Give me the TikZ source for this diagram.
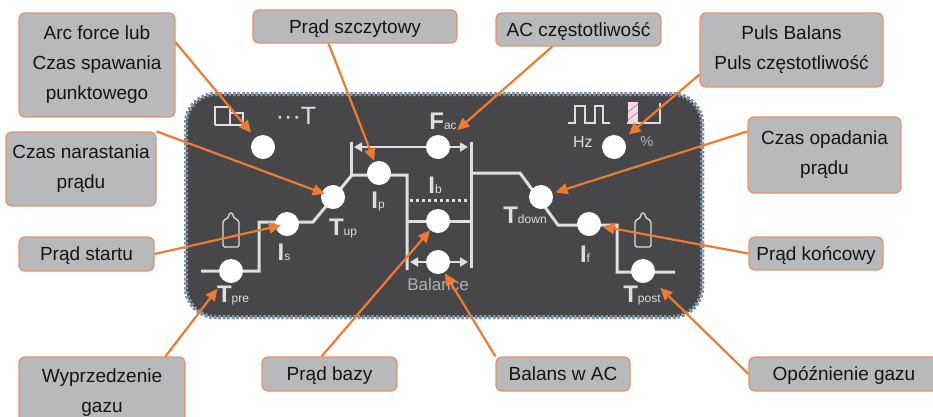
\documentclass[tikz,border=0pt]{standalone}
\usepackage{fontspec}
\setsansfont{Liberation Sans}
\usepackage{xcolor}
\usetikzlibrary{arrows.meta, positioning}

\definecolor{paneldark}{HTML}{474649}
\definecolor{paneledge}{HTML}{7F97AE}
\definecolor{panelrim}{HTML}{3C4650}
\definecolor{boxgray}{HTML}{B9B9BB}
\definecolor{boxedge}{HTML}{E2946F}
\definecolor{pointerorange}{HTML}{EE7B33}
\definecolor{wiregray}{HTML}{DEDEDE}

% big letter with its small index
\newcommand{\paneltag}[2]{{\fontsize{24}{24}\bfseries\selectfont #1}{\fontsize{12}{12}\selectfont #2}}

\begin{document}
\begin{tikzpicture}[
    x=1pt, y=-1pt,
    font=\sffamily,
    % Styles
    panel/.style={rectangle, fill=paneldark, preaction={draw=panelrim, line width=4pt}, draw=paneledge, line width=4pt, dash pattern=on 2.5pt off 2pt, rounded corners=30pt, minimum width=516pt, minimum height=223pt, inner sep=0pt},
    callout/.style={rectangle, draw=boxedge, fill=boxgray, line width=1.3pt, rounded corners=6pt, align=center, inner sep=0pt, text=black!92, font=\sffamily\fontsize{19}{30}\selectfont},
    oneline/.style={text height=17.5pt, text depth=4pt},
    knob/.style={circle, fill=white, minimum size=24pt, inner sep=0pt},
    pointer/.style={-{Triangle[length=12pt, width=11pt]}, line width=2.2pt, draw=pointerorange},
    wire/.style={line width=3pt, draw=wiregray},
    thinwire/.style={line width=1.3pt, draw=wiregray},
    dimarr/.style={{Triangle[length=8pt, width=9pt]}-{Triangle[length=8pt, width=9pt]}, line width=2.4pt, draw=wiregray},
    symbol/.style={inner sep=0pt, text=wiregray}
]

\useasboundingbox (0,0) rectangle (933,416);
\clip (0,0) rectangle (933,416);

% ========================================================
% PART 1: PANEL AND WELDING CURVE
% ========================================================

\node[panel] (panel) at (444,205.5) {};

% Current curve, left half
\draw[wire] (201,271) -- (259,271) -- (259,222) -- (313,222) -- (352,175) -- (407,175) -- (407,270);
\draw[wire] (351,142) -- (351,175);
\draw[wire] (407,221) -- (471,221);
\draw[wire, dash pattern=on 3pt off 3pt] (410,200) -- (468,200);

% Current curve, right half
\draw[wire] (471,142) -- (471,268);
\draw[wire] (471,173) -- (520,173) -- (558,225) -- (617,225) -- (617,272) -- (675,272);

% Dimension arrows
\draw[dimarr] (354,147) -- (468,147);
\draw[dimarr] (410,262) -- (468,262);

% Knobs
\node[knob] (knobarc) at (263,147) {};
\node[knob] (knobstart) at (287,224) {};
\node[knob] (knobup) at (333,197) {};
\node[knob] (knobpeak) at (379,173) {};
\node[knob] (knobfreq) at (438,147) {};
\node[knob] (knobbase) at (438,221) {};
\node[knob] (knobbal) at (438,262) {};
\node[knob] (knobpre) at (231,271) {};
\node[knob] (knobpuls) at (614,147) {};
\node[knob] (knobdown) at (541,197) {};
\node[knob] (knobend) at (589,224) {};
\node[knob] (knobpost) at (643,271) {};

% Tags next to the knobs
\node[symbol, below=8pt of knobstart, xshift=-3pt] (tagstart) {\paneltag{I}{s}};
\node[symbol, below=10pt of knobup, xshift=10pt] (tagup) {\paneltag{T}{up}};
\node[symbol, below=7pt of knobpeak, xshift=-1pt] (tagpeak) {\paneltag{I}{p}};
\node[symbol, above=5pt of knobfreq, xshift=5pt] (tagfreq) {\paneltag{F}{ac}};
\node[symbol, above=15pt of knobbase, xshift=-3pt] (tagbase) {\paneltag{I}{b}};
\node[symbol, below=3pt of knobpre, xshift=2pt] (tagpre) {\paneltag{T}{pre}};
\node[symbol, below=-2pt of knobdown, xshift=-16pt] (tagdown) {\paneltag{T}{down}};
\node[symbol, below=10pt of knobend, xshift=-4pt] (tagend) {\paneltag{I}{f}};
\node[symbol, below=3pt of knobpost, xshift=-1pt] (tagpost) {\paneltag{T}{post}};
\node[symbol, below=4pt of knobbal, font=\sffamily\fontsize{17}{17}\selectfont, text=black!30] (tagbal) {Balance};
\node[symbol, left=9pt of knobpuls, yshift=5pt, font=\sffamily\fontsize{16}{16}\selectfont] (taghz) {Hz};
\node[symbol, right=14pt of knobpuls, yshift=5pt, font=\sffamily\fontsize{14.5}{14.5}\selectfont, text=blue!30!black!30] (tagpct) {\%};
\node[symbol, font=\sffamily\fontsize{25}{25}\selectfont] (tagdots) at (296,116) {···T};

% Gas cylinders
\draw[thinwire, rounded corners=1.5pt] (223,247) -- (223,221) -- (229,217) -- (229,213) -- (233,213) -- (233,217) -- (239,221) -- (239,247) -- cycle;
\draw[thinwire, rounded corners=1.5pt] (635,247) -- (635,221) -- (641,217) -- (641,213) -- (645,213) -- (645,217) -- (651,221) -- (651,247) -- cycle;

% Small icons
\draw[thinwire] (215,125) -- (215,107) -- (230,107) -- (230,125);
\draw[thinwire] (215,125) -- (243,125) -- (243,113) -- (230,113);
\draw[thinwire] (568,123) -- (575,123) -- (575,106) -- (585,106) -- (585,123) -- (595,123) -- (595,106) -- (603,106) -- (603,123) -- (610,123);
\fill[white!85!red] (628,102) rectangle (638,122);
\draw[blue!40, line width=1pt] (628,112) -- (638,104);
\draw[blue!40, line width=1pt] (628,120) -- (638,112);
\draw[thinwire] (627,123) -- (660,123) -- (660,103);

% ========================================================
% PART 2: CALLOUT BOXES
% ========================================================

\node[callout, minimum width=156pt, minimum height=104pt] (boxarc) at (97,65) {Arc force lub\\Czas spawania\\punktowego};
\node[callout, minimum width=150pt, minimum height=74pt] (boxup) at (81,169) {Czas narastania\\prądu};
\node[callout, oneline, minimum width=135pt, minimum height=34pt] (boxstart) at (86.5,254) {Prąd startu};
\node[callout, minimum width=166pt, minimum height=72pt] (boxpre) at (102,393) {Wyprzedzenie\\gazu};
\node[callout, oneline, minimum width=204pt, minimum height=33pt] (boxpeak) at (355,26.5) {Prąd szczytowy};
\node[callout, oneline, minimum width=165pt, minimum height=33pt] (boxfreq) at (578.5,29.5) {AC częstotliwość};
\node[callout, minimum width=183pt, minimum height=74pt] (boxpuls) at (791.5,50) {Puls Balans\\Puls częstotliwość};
\node[callout, minimum width=153pt, minimum height=76pt] (boxdown) at (824.5,155) {Czas opadania\\prądu};
\node[callout, oneline, minimum width=134pt, minimum height=33pt] (boxend) at (816,253.5) {Prąd końcowy};
\node[callout, oneline, minimum width=135pt, minimum height=34pt] (boxbase) at (329.5,374) {Prąd bazy};
\node[callout, oneline, minimum width=134pt, minimum height=34pt] (boxbal) at (563,374) {Balans w AC};
\node[callout, oneline, minimum width=190pt, minimum height=34pt] (boxpost) at (844,374) {Opóźnienie gazu};

% ========================================================
% PART 3: POINTERS
% ========================================================

\draw[pointer, shorten >=6.5pt] (boxarc.16) -- (knobarc);
\draw[pointer, shorten >=-3.5pt] (boxup.north east) -- (knobup);
\draw[pointer, shorten >=-6pt] (boxstart.east) -- (knobstart);
\draw[pointer, shorten >=10pt] (boxpre.30) -- (knobpre);
\draw[pointer, shorten >=1pt] (boxpeak.213) -- (knobpeak);
\draw[pointer, shorten >=13.5pt] (boxfreq.213) -- (knobfreq);
\draw[pointer, shorten >=7pt] (boxpuls.195) -- (knobpuls);
\draw[pointer, shorten >=3pt] (boxdown.163) -- (knobdown);
\draw[pointer, shorten >=1.5pt] (boxend.west) -- (knobend);
\draw[pointer] (boxbase.114) -- (knobbase);
\draw[pointer, shorten >=1pt] (boxbal.north west) -- (knobbal);
\draw[pointer, shorten >=12pt] (boxpost.west) -- (knobpost);

\end{tikzpicture}
\end{document}
